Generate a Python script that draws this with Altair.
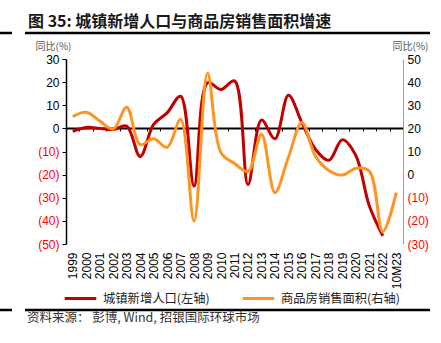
import altair as alt
import pandas as pd

years = ["1999", "2000", "2001", "2002", "2003", "2004", "2005", "2006", "2007",
         "2008", "2009", "2010", "2011", "2012", "2013", "2014", "2015", "2016",
         "2017", "2018", "2019", "2020", "2021", "2022", "10M23"]
urban = [-1.3, 0.4, 0.0, -0.5, 1.0, -12.2, 1.7, 6.7, 13.9, -25.0, 19.7, 16.8,
         20.5, -24.3, 3.6, -4.5, 14.3, 2.5, -9.0, -13.8, -4.9, -11.7, -33.5, -46.5, None]
sales = [25.1, 27.0, 23.2, 19.7, 29.1, 13.0, 15.5, 11.8, 23.8, -20.1, 43.8, 9.5,
         4.8, 1.3, 17.5, -7.8, 7.5, 22.5, 8.0, 1.8, -0.2, 2.7, 1.5, -24.7, -7.8]
series_names = ["城镇新增人口(左轴)", "商品房销售面积(右轴)"]
left_ticks = [30, 20, 10, 0, -10, -20, -30, -40, -50]
right_ticks = [50, 40, 30, 20, 10, 0, -10, -20, -30]

title_text = "图 35: 城镇新增人口与商品房销售面积增速"
source_text = "资料来源： 彭博, Wind, 招银国际环球市场"
axis_title = "同比(%)"

RED = "#C00000"
ORANGE = "#FF9422"
CJK = "Noto Sans CJK SC"
LAT = "Liberation Sans"

df_u = pd.DataFrame({"year": years, "value": urban, "series": series_names[0]}).dropna()
df_s = pd.DataFrame({"year": years, "value": sales, "series": series_names[1]})

W, H = 337, 185

color = alt.Color(
    "series:N",
    scale=alt.Scale(domain=series_names, range=[RED, ORANGE]),
    legend=alt.Legend(
        orient="none", legendX=-3, legendY=222, direction="horizontal", title=None,
        symbolType="stroke", symbolSize=1000, symbolStrokeWidth=3,
        labelFont=CJK, labelFontSize=12.3, labelOffset=5, columnPadding=26,
        labelColor="#222222", labelLimit=400,
    ),
)

xenc = alt.X(
    "year:N",
    scale=alt.Scale(type="band", domain=years, paddingInner=0, paddingOuter=0),
    axis=alt.Axis(
        title=None, offset=-116, labelAngle=-90, labelPadding=121,
        labelFont=LAT, labelFontSize=12, labelColor="#000000", labelOverlap=False,
        tickBand="extent", tickSize=3, tickColor="#000000", tickWidth=1,
        domainColor="#000000", domainWidth=2, grid=False,
    ),
)

neg_color = {"condition": {"test": "datum.value < 0", "value": "#FF0000"}, "value": "#000000"}
label_expr = "datum.value < 0 ? '(' + abs(datum.value) + ')' : datum.value"

left = alt.Chart(df_u).mark_line(interpolate="catmull-rom", strokeWidth=3).encode(
    x=xenc,
    y=alt.Y(
        "value:Q",
        scale=alt.Scale(domain=[-50, 30], nice=False, zero=False),
        axis=alt.Axis(
            orient="left", values=left_ticks, title=axis_title, titleAngle=0,
            titleAlign="center", titleBaseline="middle", titleX=-13, titleY=-13,
            titleFont=CJK, titleFontSize=10, titleFontWeight="normal", titleColor="#555555",
            labelExpr=label_expr, labelColor=neg_color, labelFont=LAT, labelFontSize=12,
            labelPadding=3, tickSize=4, tickColor="#000000", domainColor="#000000",
            domainWidth=1.5, grid=False,
        ),
    ),
    color=color,
)

right = alt.Chart(df_s).mark_line(interpolate="catmull-rom", strokeWidth=3).encode(
    x=alt.X("year:N"),
    y=alt.Y(
        "value:Q",
        scale=alt.Scale(domain=[-30, 50], nice=False, zero=False),
        axis=alt.Axis(
            orient="right", values=right_ticks, title=axis_title, titleAngle=0,
            titleAlign="center", titleBaseline="middle", titleX=7, titleY=-13,
            titleFont=CJK, titleFontSize=10, titleFontWeight="normal", titleColor="#555555",
            labelExpr=label_expr, labelColor=neg_color, labelFont=LAT, labelFontSize=12,
            labelPadding=4, tickSize=0, domainColor="#A0A0A0", domainWidth=1, grid=False,
        ),
    ),
    color=color,
)

txt = pd.DataFrame({"t": [title_text]})
title = alt.Chart(txt).mark_text(
    align="left", baseline="middle", font=CJK, fontSize=16, fontWeight="bold", color="#1a1a1a"
).encode(x=alt.value(-38), y=alt.value(-37), text="t:N")

src = alt.Chart(pd.DataFrame({"t": [source_text]})).mark_text(
    align="left", baseline="middle", font=CJK, fontSize=12.5, color="#333333"
).encode(x=alt.value(-39), y=alt.value(259), text="t:N")

rdf = pd.DataFrame({"k": [0]})
def hrule(x1, x2, y, w):
    return alt.Chart(rdf).mark_rule(color="#000000", strokeWidth=w).encode(
        x=alt.value(x1), x2=alt.value(x2), y=alt.value(y))

rules = [hrule(-41, 364, -26, 2.5), hrule(-66, -54, -26, 2.5),
         hrule(-41, 364, 251, 2.5), hrule(-66, -54, 251, 2.5)]

chart = alt.layer(left, right, title, src, *rules).resolve_scale(y="independent").properties(
    width=W, height=H,
    autosize=alt.AutoSizeParams(type="none"),
    padding={"left": 66, "top": 59, "right": 38, "bottom": 99},
).configure_view(stroke=None)

chart.save("out.html", embed_options={"renderer": "svg", "actions": False})
